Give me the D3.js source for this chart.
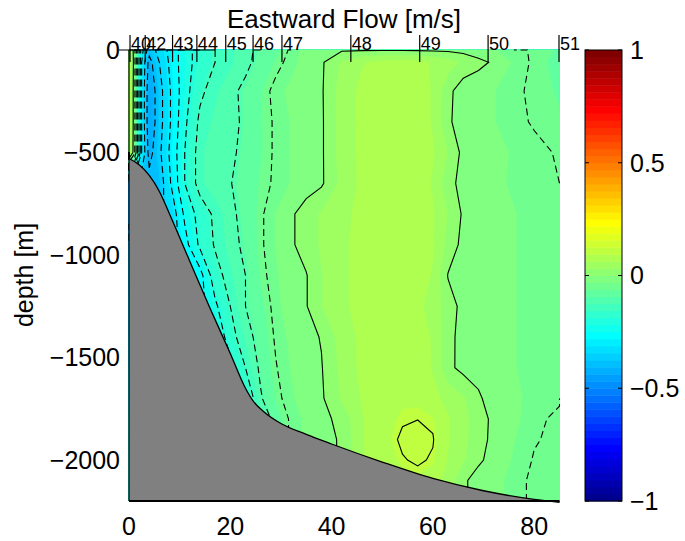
<!DOCTYPE html>
<html>
<head>
<meta charset="utf-8">
<script src="https://cdn.jsdelivr.net/npm/d3@7"></script>
<style>
  body { margin: 0; background: #fff; }
  text { font-family: "Liberation Sans", Arial, sans-serif; fill: #000; }
</style>
</head>
<body>
<svg id="chart" width="685" height="541"></svg>
<script>
// section grid: distance offshore (km) and depth (m)
const distKm = [0, 1, 2.5, 4, 6, 8.5, 11, 14, 17, 20, 23, 26, 29, 32, 35, 38, 42, 46, 50, 54, 57, 60, 63, 66, 69, 72, 76, 80, 85];
const depthM = [0, -60, -200, -350, -500, -650, -800, -950, -1100, -1250, -1400, -1550, -1700, -1800, -1900, -2000, -2100, -2200];

// eastward flow [m/s], one row per depth
const flow = [
  [0.09, -0.02, -0.28, -0.38, -0.33, -0.28, -0.22, -0.18, -0.15, -0.13, -0.11, -0.09, -0.07, -0.045, -0.02, -0.006, -0.004, -0.003, -0.003, -0.003, -0.004, -0.005, -0.006, -0.01, -0.02, -0.03, -0.04, -0.055, -0.065],
  [0.095, -0.015, -0.3, -0.42, -0.35, -0.28, -0.22, -0.18, -0.15, -0.13, -0.11, -0.085, -0.06, -0.04, -0.02, -0.005, 0.035, 0.06, 0.07, 0.075, 0.07, 0.06, 0.045, 0.025, 0.01, -0.005, -0.035, -0.055, -0.07],
  [0.095, -0.02, -0.3, -0.44, -0.37, -0.29, -0.22, -0.16, -0.13, -0.11, -0.09, -0.065, -0.04, -0.025, -0.012, -0.004, 0.045, 0.07, 0.08, 0.08, 0.075, 0.06, 0.01, -0.02, -0.025, -0.03, -0.045, -0.055, -0.065],
  [0.095, -0.02, -0.3, -0.44, -0.37, -0.29, -0.21, -0.14, -0.12, -0.115, -0.09, -0.065, -0.045, -0.03, -0.015, -0.005, 0.045, 0.07, 0.08, 0.08, 0.075, 0.06, 0.005, -0.015, -0.02, -0.03, -0.045, -0.052, -0.06],
  [0.09, -0.025, -0.3, -0.42, -0.36, -0.28, -0.2, -0.13, -0.11, -0.11, -0.085, -0.065, -0.045, -0.03, -0.015, -0.005, 0.045, 0.07, 0.08, 0.08, 0.075, 0.065, 0.03, -0.01, -0.015, -0.02, -0.035, -0.045, -0.052],
  [-0.38, -0.38, -0.38, -0.38, -0.38, -0.29, -0.2, -0.13, -0.11, -0.102, -0.08, -0.06, -0.045, -0.03, -0.015, -0.005, 0.04, 0.07, 0.08, 0.08, 0.075, 0.06, 0.01, -0.01, -0.015, -0.025, -0.035, -0.045, -0.05],
  [-0.36, -0.36, -0.36, -0.36, -0.36, -0.33, -0.24, -0.18, -0.14, -0.11, -0.085, -0.055, -0.03, -0.005, 0.015, 0.035, 0.055, 0.07, 0.085, 0.085, 0.075, 0.065, 0.03, -0.005, -0.01, -0.02, -0.03, -0.04, -0.045],
  [-0.33, -0.33, -0.33, -0.33, -0.33, -0.33, -0.27, -0.19, -0.145, -0.115, -0.09, -0.055, -0.03, -0.005, 0.015, 0.035, 0.055, 0.075, 0.085, 0.085, 0.08, 0.065, 0.02, -0.01, -0.015, -0.02, -0.03, -0.04, -0.045],
  [-0.3, -0.3, -0.3, -0.3, -0.3, -0.3, -0.3, -0.27, -0.17, -0.13, -0.1, -0.06, -0.035, -0.012, -0.002, 0.03, 0.055, 0.075, 0.085, 0.085, 0.075, 0.06, -0.002, -0.015, -0.018, -0.02, -0.03, -0.04, -0.045],
  [-0.27, -0.27, -0.27, -0.27, -0.27, -0.27, -0.27, -0.27, -0.21, -0.15, -0.1, -0.07, -0.04, -0.015, -0.002, 0.03, 0.055, 0.075, 0.085, 0.085, 0.07, 0.05, 0.015, -0.01, -0.015, -0.02, -0.03, -0.04, -0.045],
  [-0.25, -0.25, -0.25, -0.25, -0.25, -0.25, -0.25, -0.25, -0.25, -0.17, -0.12, -0.08, -0.045, -0.025, -0.01, 0.002, 0.045, 0.07, 0.085, 0.085, 0.075, 0.06, 0.01, -0.012, -0.015, -0.02, -0.03, -0.04, -0.045],
  [-0.22, -0.22, -0.22, -0.22, -0.22, -0.22, -0.22, -0.22, -0.22, -0.22, -0.15, -0.09, -0.052, -0.03, -0.015, -0.002, 0.04, 0.07, 0.085, 0.085, 0.08, 0.06, 0.008, -0.01, -0.012, -0.02, -0.03, -0.04, -0.045],
  [-0.2, -0.2, -0.2, -0.2, -0.2, -0.2, -0.2, -0.2, -0.2, -0.2, -0.2, -0.105, -0.06, -0.035, -0.02, -0.005, 0.035, 0.065, 0.085, 0.09, 0.09, 0.07, 0.055, 0.035, 0.005, -0.015, -0.025, -0.04, -0.047],
  [-0.15, -0.15, -0.15, -0.15, -0.15, -0.15, -0.15, -0.15, -0.15, -0.15, -0.15, -0.15, -0.075, -0.045, -0.025, -0.01, 0.01, 0.06, 0.085, 0.097, 0.099, 0.095, 0.065, 0.04, 0.015, -0.008, -0.025, -0.045, -0.055],
  [-0.15, -0.15, -0.15, -0.15, -0.15, -0.15, -0.15, -0.15, -0.15, -0.15, -0.15, -0.15, -0.075, -0.045, -0.025, -0.015, 0.005, 0.06, 0.085, 0.105, 0.12, 0.102, 0.065, 0.04, 0.012, -0.008, -0.03, -0.048, -0.056],
  [-0.15, -0.15, -0.15, -0.15, -0.15, -0.15, -0.15, -0.15, -0.15, -0.15, -0.15, -0.15, -0.075, -0.045, -0.025, -0.015, 0.005, 0.06, 0.08, 0.098, 0.104, 0.097, 0.06, 0.035, 0.005, -0.01, -0.035, -0.052, -0.056],
  [-0.15, -0.15, -0.15, -0.15, -0.15, -0.15, -0.15, -0.15, -0.15, -0.15, -0.15, -0.15, -0.075, -0.045, -0.025, -0.015, 0.005, 0.06, 0.08, 0.085, 0.09, 0.08, 0.05, 0.005, -0.012, -0.02, -0.042, -0.055, -0.058],
  [-0.15, -0.15, -0.15, -0.15, -0.15, -0.15, -0.15, -0.15, -0.15, -0.15, -0.15, -0.15, -0.075, -0.045, -0.025, -0.015, 0.005, 0.06, 0.08, 0.085, 0.09, 0.08, 0.05, 0.005, -0.012, -0.02, -0.042, -0.055, -0.06]
];

// sea floor
const bottomKm = [0, 2, 4, 6, 8, 12, 16, 20, 23, 24.5, 26.5, 30, 35, 40, 50, 60, 70, 80, 85];
const bottomDepth = [-529, -560, -612, -690, -800, -1030, -1260, -1480, -1650, -1712, -1762, -1822, -1875, -1922, -2010, -2090, -2150, -2192, -2206];

// CTD stations along the top
const stationNames = ["40", "42", "43", "44", "45", "46", "47", "48", "49", "50", "51"];
const stationKm = [0.2, 3.2, 8.6, 13.4, 19.1, 24.5, 30.2, 43.8, 57.4, 70.9, 84.9];

const lineLevels = [-0.4, -0.35, -0.3, -0.25, -0.2, -0.15, -0.1, -0.05, 0, 0.1];
const xTicks = [0, 20, 40, 60, 80];
const yTicks = [0, -500, -1000, -1500, -2000];
const cbTicks = [-1, -0.5, 0, 0.5, 1];

const svg = d3.select("#chart");

const x = d3.scaleLinear().domain([0, 85]).range([129, 559.5]);
const y = d3.scaleLinear().domain([0, -2200]).range([50, 501]);
const cb = d3.scaleLinear().domain([-1, 1]).range([501, 50]);

// matlab jet, 64 colours
const nColors = 64;
const clamp01 = v => Math.max(0, Math.min(1, v));
const jet = f => d3.rgb(
  255 * clamp01(1.5 - Math.abs(4 * f - 3)),
  255 * clamp01(1.5 - Math.abs(4 * f - 2)),
  255 * clamp01(1.5 - Math.abs(4 * f - 1))
).formatHex();
const bandColor = k => jet((k + 1) / nColors);

// grid -> km / m
const nx = distKm.length, ny = depthM.length;
const ix = d3.scaleLinear().domain(d3.range(nx)).range(distKm).clamp(true);
const iy = d3.scaleLinear().domain(d3.range(ny)).range(depthM).clamp(true);
const gx = p => x(ix(p[0] - 0.5));
const gy = p => y(iy(p[1] - 0.5));
const proj = d3.geoTransform({
  point: function (px, py) { this.stream.point(x(ix(px - 0.5)), y(iy(py - 0.5))); }
});
const path = d3.geoPath(proj);

const values = flow.flat();

// filled field
const fillThresholds = d3.range(nColors).map(k => -1 + k * 2 / nColors);
const bands = d3.contours().size([nx, ny]).thresholds(fillThresholds)(values);

svg.append("g")
  .selectAll("path")
  .data(bands)
  .join("path")
  .attr("d", path)
  .attr("fill", (d, i) => bandColor(i))
  .attr("stroke", (d, i) => bandColor(i))
  .attr("stroke-width", 0.5);

// contour lines, skipping the grid border
function ringPath(ring) {
  const p = d3.path();
  let pen = false;
  for (let i = 0; i < ring.length - 1; i++) {
    const a = ring[i], b = ring[i + 1];
    const edge = (a[0] === 0 && b[0] === 0) || (a[0] === nx && b[0] === nx) ||
                 (a[1] === 0 && b[1] === 0) || (a[1] === ny && b[1] === ny);
    if (edge) { pen = false; continue; }
    if (!pen) { p.moveTo(gx(a), gy(a)); pen = true; }
    p.lineTo(gx(b), gy(b));
  }
  return p.toString();
}

const lines = d3.contours().size([nx, ny]).thresholds(lineLevels)(values);

svg.append("g")
  .selectAll("path")
  .data(lines)
  .join("path")
  .attr("d", d => d.coordinates.flat().map(ringPath).join(""))
  .attr("fill", "none")
  .attr("stroke", "#000")
  .attr("stroke-width", 1.1)
  .attr("stroke-dasharray", d => d.value < 0 ? "7,4" : null);

// sea floor
const floor = d3.area()
  .x((d, i) => x(bottomKm[i]))
  .y0(y(-2200))
  .y1(d => y(d))
  .curve(d3.curveMonotoneX);

svg.append("path")
  .datum(bottomDepth)
  .attr("d", floor)
  .attr("fill", "#808080");

svg.append("path")
  .datum(bottomDepth)
  .attr("d", d3.line().x((d, i) => x(bottomKm[i])).y(d => y(d)).curve(d3.curveMonotoneX))
  .attr("fill", "none")
  .attr("stroke", "#000")
  .attr("stroke-width", 1.3);

// axes
svg.append("line")
  .attr("x1", x(0)).attr("x2", x(0)).attr("y1", y(0)).attr("y2", y(-2200))
  .attr("stroke", "#000").attr("stroke-width", 1.2);
svg.append("line")
  .attr("x1", x(0)).attr("x2", x(85)).attr("y1", y(-2200)).attr("y2", y(-2200))
  .attr("stroke", "#000").attr("stroke-width", 2);
svg.append("line")
  .attr("x1", x(-2)).attr("x2", x(17)).attr("y1", y(0)).attr("y2", y(0))
  .attr("stroke", "#000").attr("stroke-width", 1.2);

svg.append("g")
  .selectAll("text")
  .data(xTicks)
  .join("text")
  .attr("x", d => x(d))
  .attr("y", 535)
  .attr("text-anchor", "middle")
  .attr("font-size", 25)
  .text(d => d);

svg.append("g")
  .selectAll("text")
  .data(yTicks)
  .join("text")
  .attr("x", 120)
  .attr("y", d => y(d))
  .attr("dy", "0.35em")
  .attr("text-anchor", "end")
  .attr("font-size", 25)
  .text(d => d3.format("")(d).replace("-", "\u2212"));

svg.append("text")
  .attr("transform", "translate(33,275) rotate(-90)")
  .attr("text-anchor", "middle")
  .attr("font-size", 25)
  .text("depth [m]");

svg.append("text")
  .attr("x", 344)
  .attr("y", 28)
  .attr("text-anchor", "middle")
  .attr("font-size", 26)
  .text("Eastward Flow [m/s]");

// stations
const st = svg.append("g")
  .selectAll("g")
  .data(stationNames)
  .join("g")
  .attr("transform", (d, i) => `translate(${x(stationKm[i])},0)`);
st.append("line")
  .attr("y1", 35).attr("y2", 62)
  .attr("stroke", "#000").attr("stroke-width", 1.2);
st.append("text")
  .attr("x", 1)
  .attr("y", 50)
  .attr("font-size", 18)
  .text(d => d);

// colorbar
const cbx = 585, cbw = 37;
svg.append("g")
  .selectAll("rect")
  .data(d3.range(nColors))
  .join("rect")
  .attr("x", cbx)
  .attr("width", cbw)
  .attr("y", k => cb(-1 + (k + 1) * 2 / nColors))
  .attr("height", k => cb(-1 + k * 2 / nColors) - cb(-1 + (k + 1) * 2 / nColors) + 0.5)
  .attr("fill", k => bandColor(k));
svg.append("rect")
  .attr("x", cbx).attr("y", cb(1)).attr("width", cbw).attr("height", cb(-1) - cb(1))
  .attr("fill", "none").attr("stroke", "#000").attr("stroke-width", 1);

const cbt = svg.append("g")
  .selectAll("g")
  .data(cbTicks)
  .join("g")
  .attr("transform", d => `translate(0,${cb(d)})`);
cbt.append("line").attr("x1", cbx).attr("x2", cbx + 4).attr("stroke", "#000");
cbt.append("line").attr("x1", cbx + cbw - 4).attr("x2", cbx + cbw).attr("stroke", "#000");
cbt.append("text")
  .attr("x", 630)
  .attr("dy", "0.35em")
  .attr("font-size", 25)
  .text(d => String(d).replace("-", "\u2212"));
</script>
</body>
</html>
